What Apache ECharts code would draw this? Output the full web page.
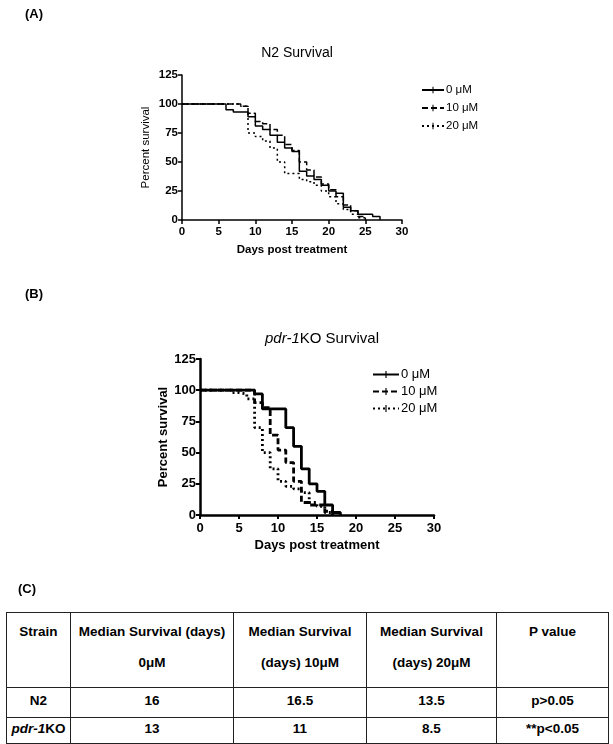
<!DOCTYPE html>
<html>
<head>
<meta charset="utf-8">
<script src="https://cdn.jsdelivr.net/npm/echarts@6/dist/echarts.min.js"></script>
<style>
html,body{margin:0;padding:0;background:#fff;width:613px;height:744px;overflow:hidden;font-family:"Liberation Sans",Arial,sans-serif;}
#chart{position:absolute;left:0;top:0;width:613px;height:600px;}
.lbl{position:absolute;font-weight:bold;font-size:13px;color:#000;}
#tbl{position:absolute;left:6px;top:612px;border-collapse:collapse;font-family:"Liberation Sans Narrow","Liberation Sans",Arial,sans-serif;font-weight:bold;font-size:13.5px;color:#000;}
#tbl td{border:1.5px solid #222;text-align:center;vertical-align:top;padding:0;}
#tbl tr.h td{padding-top:3px;line-height:31px;}
</style>
</head>
<body>
<div id="chart"></div>
<div class="lbl" style="left:25px;top:6px;">(A)</div>
<div class="lbl" style="left:25px;top:286px;">(B)</div>
<div class="lbl" style="left:18px;top:581px;">(C)</div>
<table id="tbl">
<colgroup><col style="width:64px"><col style="width:163px"><col style="width:133px"><col style="width:130px"><col style="width:112px"></colgroup>
<tr class="h" style="height:75px"><td>Strain</td><td>Median Survival (days)<br>0μM</td><td>Median Survival<br>(days) 10μM</td><td>Median Survival<br>(days) 20μM</td><td>P value</td></tr>
<tr style="height:30px"><td style="padding-top:5px">N2</td><td style="padding-top:5px">16</td><td style="padding-top:5px">16.5</td><td style="padding-top:5px">13.5</td><td style="padding-top:5px">p&gt;0.05</td></tr>
<tr style="height:26px"><td style="padding-top:3px"><i>pdr-1</i>KO</td><td style="padding-top:3px">13</td><td style="padding-top:3px">11</td><td style="padding-top:3px">8.5</td><td style="padding-top:3px">**p&lt;0.05</td></tr>
</table>
<script>
// N2 survival (Kaplan-Meier steps)
const n2Days0  = [0,6,7,9,10,11,12,13,14,15,16,17,18,19,20,21,22,23,24,26,27];
const n2Surv0  = [100,95,93,89,81,78,73,67,62,59,42,38,35,30,25,23,11,8,5,3,0];
const n2Days10 = [0,8,9,10,11,12,13,14,15,16,17,18,19,20,21,22,23,24,25];
const n2Surv10 = [100,98,92,85,83,78,73,65,60,50,43,37,31,26,20,13,8,3,0];
const n2Days20 = [0,8,9,10,11,12,13,14,16,17,18,19,20,21,22,23,24,25];
const n2Surv20 = [100,98,75,72,68,62,50,40,35,33,30,25,20,14,9,5,2,0];
// pdr-1KO survival
const pdDays0  = [0,7,8,11,12,13,14,15,16,17,18];
const pdSurv0  = [100,97,85,70,55,37,25,19,8,2,0];
const pdDays10 = [0,7,8,9,10,11,12,13,14,16,17];
const pdSurv10 = [100,90,86,64,52,42,27,10,8,3,0];
const pdDays20 = [0,4,5,6,7,8,9,10,11,12,13,14,15,16,17];
const pdSurv20 = [100,98,97,93,70,50,37,27,23,21,18,10,7,2,0];
const seriesNames = ['0 μM','10 μM','20 μM'];
const xTicks = [0,5,10,15,20,25,30];
const yTicks = [0,25,50,75,100,125];

const pairs = (d,s)=>d.map((x,i)=>[x,s[i]]);
const FONT = '"Liberation Sans", Arial, sans-serif';
const dashes = ['solid',[6,3],[2,3]];
// thin vertical tick, with sub-pixel corner specks so its box stays square
const TICK_ICON = 'path://M0,0 L0.01,0 L0,0.01 Z M10,10 L9.99,10 L10,9.99 Z M4.2,0 L5.8,0 L5.8,10 L4.2,10 Z';

function axes(gi, bold, fs){
  return {
    x:{type:'value',gridIndex:gi,min:0,max:30,interval:5,
      name:'Days post treatment',nameLocation:'middle',nameGap:24,
      nameTextStyle:{fontFamily:FONT,fontWeight:'bold',fontSize:fs,color:'#000'},
      axisLine:{lineStyle:{color:'#000',width:bold?2.5:1.5}},
      axisTick:{inside:false,length:4,lineStyle:{color:'#000',width:bold?2:1.5}},
      axisLabel:{fontFamily:FONT,fontWeight:'bold',fontSize:fs,color:'#000',margin:bold?7:6},
      splitLine:{show:false}},
    y:{type:'value',gridIndex:gi,min:0,max:125,interval:25,
      name:'Percent survival',nameLocation:'middle',nameGap:30,
      nameTextStyle:{fontFamily:FONT,fontWeight:bold?'bold':'normal',fontSize:fs,color:'#000'},
      axisLine:{show:true,lineStyle:{color:'#000',width:bold?2.5:1.5}},
      axisTick:{show:true,inside:false,length:4,lineStyle:{color:'#000',width:bold?2:1.5}},
      axisLabel:{fontFamily:FONT,fontWeight:'bold',fontSize:fs,color:'#000',margin:4},
      splitLine:{show:false}}
  };
}
const aA = axes(0,false,11.5), aB = axes(1,true,13);

function mk(name, data, gi, idx, w){
  return {name:name,type:'line',step:'end',xAxisIndex:gi,yAxisIndex:gi,data:data,
    symbol:TICK_ICON,symbolSize:7,showSymbol:false,
    lineStyle:{color:'#000',width:w,type:dashes[idx]},itemStyle:{color:'#000'},
    animation:false,silent:true};
}

const chart = echarts.init(document.getElementById('chart'));
chart.setOption({
  backgroundColor:'#fff',
  animation:false,
  title:[
    {text:'N2 Survival',left:292,top:41,textAlign:'center',textStyle:{fontFamily:FONT,fontWeight:'normal',fontSize:14,color:'#000'}},
    {text:'{i|pdr-1}{n|KO Survival}',left:317,top:326,textAlign:'center',
     textStyle:{fontWeight:'normal',rich:{i:{fontFamily:FONT,fontStyle:'italic',fontWeight:'normal',fontSize:15,color:'#000'},n:{fontFamily:FONT,fontWeight:'normal',fontSize:15,color:'#000'}}}}
  ],
  legend:[
    {orient:'vertical',left:416,top:79,itemWidth:22,itemHeight:8,itemGap:6,
     data:seriesNames.map(n=>n),
     textStyle:{fontFamily:FONT,fontSize:11.5,color:'#000',padding:[0,0,0,-3]},selectedMode:false},
    {orient:'vertical',left:367,top:363,itemWidth:26,itemHeight:9,itemGap:4,
     data:seriesNames.map(n=>n+' '),
     textStyle:{fontFamily:FONT,fontSize:13,color:'#000',padding:[0,0,0,-3]},selectedMode:false}
  ],
  grid:[
    {left:182,top:75,width:220,height:145},
    {left:200,top:359,width:234,height:156}
  ],
  xAxis:[aA.x,aB.x],
  yAxis:[aA.y,aB.y],
  series:[
    mk(seriesNames[0],pairs(n2Days0,n2Surv0),0,0,1.5),
    mk(seriesNames[1],pairs(n2Days10,n2Surv10),0,1,1.5),
    mk(seriesNames[2],pairs(n2Days20,n2Surv20),0,2,1.5),
    mk(seriesNames[0]+' ',pairs(pdDays0,pdSurv0),1,0,2.8),
    mk(seriesNames[1]+' ',pairs(pdDays10,pdSurv10),1,1,2.8),
    mk(seriesNames[2]+' ',pairs(pdDays20,pdSurv20),1,2,2.8)
  ]
});
</script>
</body>
</html>
